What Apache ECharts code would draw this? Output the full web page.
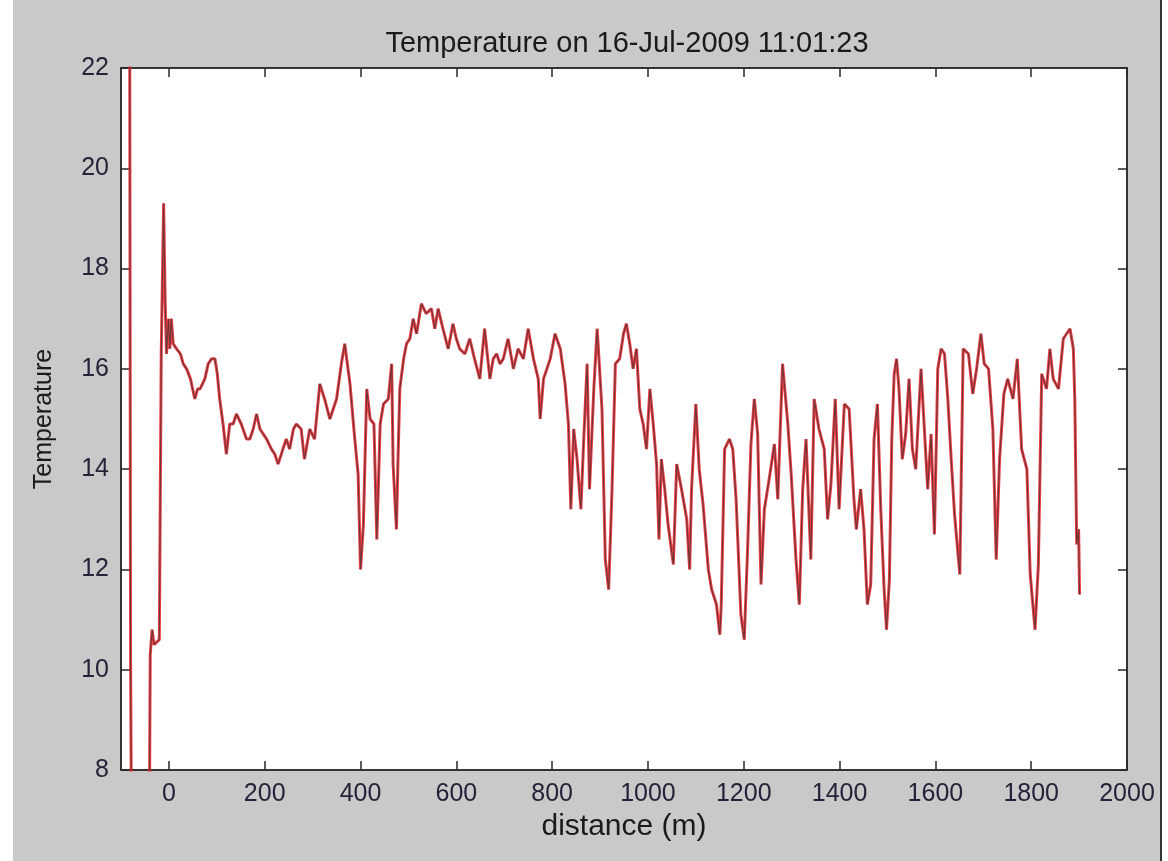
<!DOCTYPE html>
<html>
<head>
<meta charset="utf-8">
<title>Temperature</title>
<script src="https://cdn.jsdelivr.net/npm/echarts@6/dist/echarts.min.js"></script>
<style>
  html, body { margin: 0; padding: 0; background: #fff; }
  #main { position: absolute; left: 13px; top: 0; width: 1147px; height: 861px; background: #c9c9c9; border-right: 2px solid #333; }
</style>
</head>
<body>
<div id="main"></div>
<script>
// distance along the cable (m)
var distance = [
  -98, -82, -80, -78, -41, -39, -35, -31, -20, -16, -11, -8, -5, -1, 2, 5, 9, 16, 24, 30,
  37, 45, 54, 60, 65, 75, 82, 89, 96, 101, 106, 113, 120, 127, 134, 141, 151, 162, 169, 176,
  183, 190, 197, 204, 214, 221, 228, 238, 245, 252, 260, 266, 276, 283, 294, 304, 315, 325, 336, 343,
  350, 360, 367, 378, 388, 395, 400, 406, 413, 420, 428, 434, 441, 448, 458, 465, 468, 475, 478, 482,
  490, 496, 503, 510, 517, 527, 537, 548, 555, 562, 572, 583, 593, 600, 607, 618, 628, 638, 649, 659,
  670, 677, 684, 691, 698, 708, 719, 729, 740, 750, 761, 771, 775, 782, 789, 796, 806, 817, 827, 834,
  839, 845, 852, 860, 866, 873, 878, 887, 894, 904, 911, 918, 925, 932, 941, 949, 955, 962, 969, 976,
  983, 990, 997, 1004, 1011, 1018, 1023, 1028, 1035, 1042, 1053, 1060, 1070, 1081, 1087, 1091, 1100, 1107, 1115, 1126,
  1133, 1143, 1150, 1153, 1160, 1170, 1177, 1184, 1194, 1201, 1208, 1215, 1222, 1229, 1236, 1243, 1253, 1264, 1271, 1281,
  1292, 1299, 1309, 1316, 1323, 1330, 1340, 1347, 1357, 1368, 1375, 1382, 1391, 1399, 1410, 1420, 1430, 1435, 1444, 1451,
  1458, 1465, 1472, 1479, 1486, 1493, 1498, 1504, 1509, 1514, 1519, 1524, 1531, 1538, 1545, 1552, 1559, 1570, 1577, 1584,
  1591, 1598, 1605, 1612, 1619, 1626, 1633, 1640, 1651, 1658, 1669, 1678, 1686, 1695, 1702, 1711, 1720, 1727, 1734, 1743,
  1751, 1762, 1771, 1780, 1791, 1798, 1808, 1815, 1822, 1832, 1839, 1846, 1857, 1867, 1881, 1888, 1891, 1895, 1899, 1901
];

// temperature
var temperature = [
  24.5, 24.0, 10.2, 6.5, 6.5, 10.3, 10.8, 10.5, 10.6, 16.3, 19.3, 17.4, 16.3, 17.0, 16.4, 17.0, 16.5, 16.4, 16.3, 16.1,
  16.0, 15.8, 15.4, 15.6, 15.6, 15.8, 16.1, 16.2, 16.2, 15.9, 15.4, 14.9, 14.3, 14.9, 14.9, 15.1, 14.9, 14.6, 14.6, 14.8,
  15.1, 14.8, 14.7, 14.6, 14.4, 14.3, 14.1, 14.4, 14.6, 14.4, 14.8, 14.9, 14.8, 14.2, 14.8, 14.6, 15.7, 15.4, 15.0, 15.2,
  15.4, 16.1, 16.5, 15.7, 14.6, 13.9, 12.0, 12.9, 15.6, 15.0, 14.9, 12.6, 14.9, 15.3, 15.4, 16.1, 14.1, 12.8, 14.1, 15.6,
  16.2, 16.5, 16.6, 17.0, 16.7, 17.3, 17.1, 17.2, 16.8, 17.2, 16.8, 16.4, 16.9, 16.6, 16.4, 16.3, 16.6, 16.2, 15.8, 16.8,
  15.8, 16.2, 16.3, 16.1, 16.2, 16.6, 16.0, 16.4, 16.2, 16.8, 16.2, 15.8, 15.0, 15.8, 16.0, 16.2, 16.7, 16.4, 15.7, 14.9,
  13.2, 14.8, 14.2, 13.2, 14.6, 16.1, 13.6, 15.6, 16.8, 15.2, 12.2, 11.6, 13.6, 16.1, 16.2, 16.7, 16.9, 16.5, 16.0, 16.4,
  15.2, 14.9, 14.4, 15.6, 14.9, 14.1, 12.6, 14.2, 13.6, 12.9, 12.1, 14.1, 13.6, 13.0, 12.0, 13.6, 15.3, 14.0, 13.3, 12.0,
  11.6, 11.3, 10.7, 11.3, 14.4, 14.6, 14.4, 13.4, 11.1, 10.6, 12.4, 14.5, 15.4, 14.7, 11.7, 13.2, 13.8, 14.5, 13.4, 16.1,
  14.9, 13.9, 12.2, 11.3, 13.6, 14.6, 12.2, 15.4, 14.8, 14.4, 13.0, 13.7, 15.4, 13.2, 15.3, 15.2, 13.4, 12.8, 13.6, 12.8,
  11.3, 11.7, 14.6, 15.3, 13.2, 11.6, 10.8, 11.8, 14.6, 15.9, 16.2, 15.6, 14.2, 14.7, 15.8, 14.4, 14.0, 16.0, 14.8, 13.6,
  14.7, 12.7, 16.0, 16.4, 16.3, 15.4, 14.2, 13.1, 11.9, 16.4, 16.3, 15.5, 16.0, 16.7, 16.1, 16.0, 14.8, 12.2, 14.2, 15.5,
  15.8, 15.4, 16.2, 14.4, 14.0, 11.9, 10.8, 12.1, 15.9, 15.6, 16.4, 15.8, 15.6, 16.6, 16.8, 16.4, 15.4, 12.5, 12.8, 11.5
];

var xTicks = [0, 200, 400, 600, 800, 1000, 1200, 1400, 1600, 1800, 2000];

var points = distance.map(function (d, i) { return [d, temperature[i]]; });

var font = '"Liberation Sans", Arial, Helvetica, sans-serif';
var textColor = '#23233a';
var axisColor = '#2a2a2a';

function plain(v) { return String(v); }

var myChart = echarts.init(document.getElementById('main'));
myChart.setOption({
    animation: false,
    title: {
        text: 'Temperature on 16-Jul-2009 11:01:23',
        left: 609,
        top: 24,
        textAlign: 'center',
        textStyle: { fontFamily: font, fontSize: 29, fontWeight: 'normal', color: '#1a1a1a' }
    },
    grid: {
        left: 108, right: 33, top: 68, bottom: 91,
        show: true, backgroundColor: '#ffffff', borderColor: axisColor, borderWidth: 1.5
    },
    xAxis: [
        {
            type: 'value', min: -100, max: 2000,
            name: 'distance (m)', nameLocation: 'middle', nameGap: 42,
            nameTextStyle: { fontFamily: font, fontSize: 30, color: '#1a1a1a' },
            axisLine: { onZero: false, lineStyle: { color: axisColor, width: 1.5 } },
            axisTick: { inside: true, length: 9, customValues: xTicks, lineStyle: { color: axisColor, width: 1.5 } },
            axisLabel: { customValues: xTicks, formatter: plain, margin: 12, fontFamily: font, fontSize: 25, color: textColor },
            splitLine: { show: false }
        },
        {
            type: 'value', min: -100, max: 2000, position: 'top',
            axisLine: { onZero: false, lineStyle: { color: axisColor, width: 1.5 } },
            axisTick: { inside: true, length: 9, customValues: xTicks, lineStyle: { color: axisColor, width: 1.5 } },
            axisLabel: { show: false },
            splitLine: { show: false }
        }
    ],
    yAxis: [
        {
            type: 'value', min: 8, max: 22, interval: 2,
            name: 'Temperature', nameLocation: 'middle', nameGap: 64, nameRotate: 90,
            nameTextStyle: { fontFamily: font, fontSize: 25, color: '#1a1a1a' },
            axisLine: { show: true, onZero: false, lineStyle: { color: axisColor, width: 1.5 } },
            axisTick: { show: true, inside: true, length: 9, lineStyle: { color: axisColor, width: 1.5 } },
            axisLabel: { formatter: plain, margin: 12, fontFamily: font, fontSize: 25, color: textColor },
            splitLine: { show: false }
        },
        {
            type: 'value', min: 8, max: 22, interval: 2, position: 'right',
            axisLine: { show: true, onZero: false, lineStyle: { color: axisColor, width: 1.5 } },
            axisTick: { show: true, inside: true, length: 9, lineStyle: { color: axisColor, width: 1.5 } },
            axisLabel: { show: false },
            splitLine: { show: false }
        }
    ],
    series: [
        {
            type: 'line', data: points, symbol: 'none', clip: true,
            lineStyle: { color: '#ec1c24', width: 3, opacity: 0.85 }
        },
        {
            type: 'line', data: points, symbol: 'none', clip: true,
            lineStyle: { color: '#4a3434', width: 1.1, opacity: 0.8 }
        }
    ]
});
</script>
</body>
</html>
